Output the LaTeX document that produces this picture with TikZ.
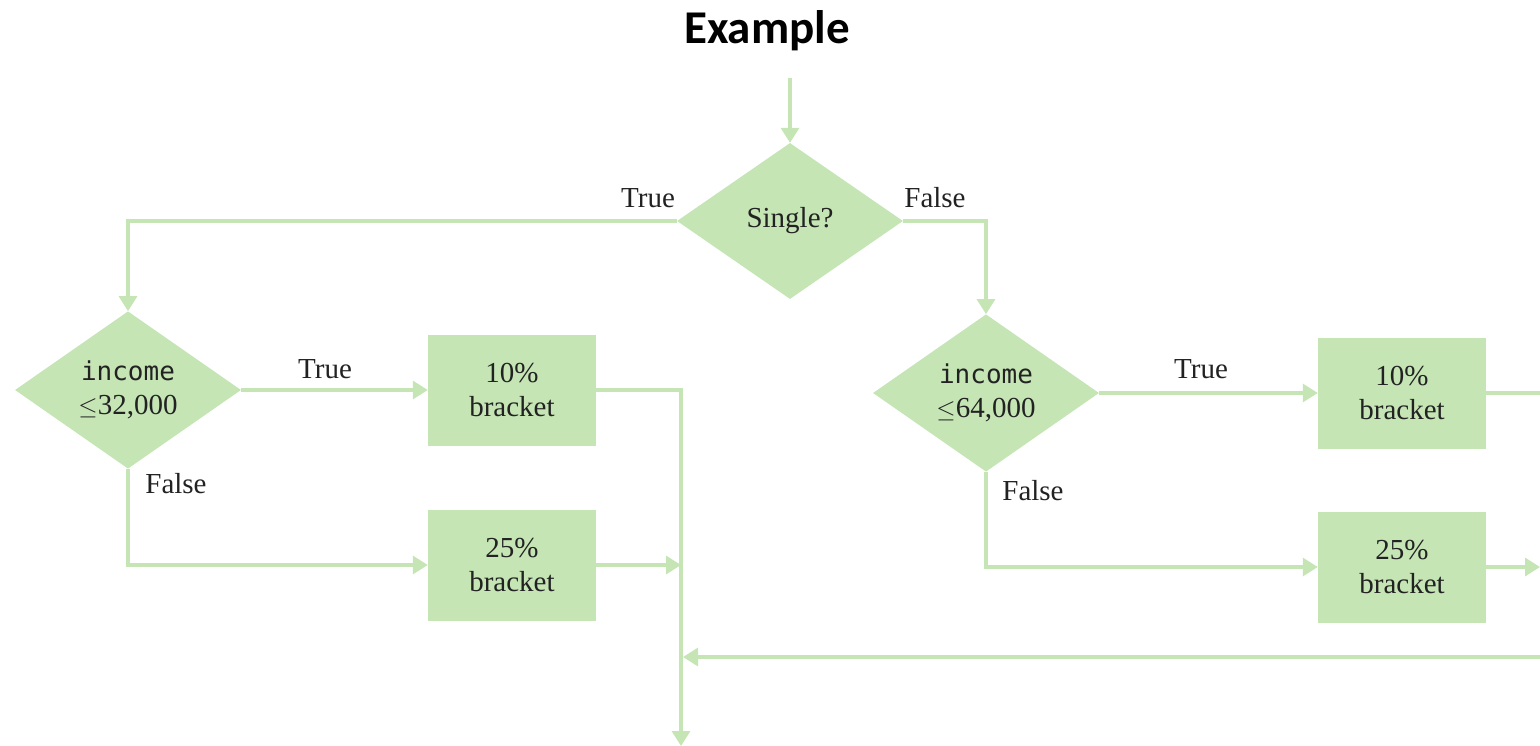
\documentclass[tikz,border=0pt]{standalone}
\usepackage{fontspec}
\setmainfont{Liberation Serif}
\setmonofont{DejaVu Sans Mono}
\newfontfamily\titlefont{Carlito}
\usetikzlibrary{shapes.geometric,arrows.meta}
\definecolor{flowgreen}{RGB}{197,229,181}
\definecolor{inkgray}{RGB}{34,34,34}
\tikzset{
  decision/.style={diamond, fill=flowgreen, inner sep=0pt, minimum width=226pt, minimum height=156pt,
    text=inkgray, align=center, font=\fontsize{29}{34}\selectfont},
  bracketbox/.style={rectangle, fill=flowgreen, inner sep=0pt, minimum width=168pt, minimum height=111pt,
    text=inkgray, align=center, font=\fontsize{29}{34}\selectfont},
  flow/.style={draw=flowgreen, line width=3.2pt},
  arr/.style={flow, -{Triangle[length=15pt,width=18pt]}},
  lbl/.style={text=inkgray, font=\fontsize{29}{34}\selectfont, inner sep=0pt},
}
\begin{document}
\begin{tikzpicture}[x=1pt,y=-1pt]
\useasboundingbox (0,0) rectangle (1540,746);

% title
\node[font=\titlefont\bfseries\fontsize{47}{52}\selectfont, text=black] (title) at (767,31) {Example};

% decisions
\node[decision] (single) at (790,221) {Single?};
\node[decision] (low) at (128,390) {\ttfamily\fontsize{26}{34}\selectfont income\\$\leq$32,000};
\node[decision] (high) at (986,393) {\ttfamily\fontsize{26}{34}\selectfont income\\$\leq$64,000};

% outcome boxes
\node[bracketbox] (lowten) at (512,390) {10\%\\bracket};
\node[bracketbox] (lowtwentyfive) at (512,565) {25\%\\bracket};
\node[bracketbox] (highten) at (1402,393) {10\%\\bracket};
\node[bracketbox] (hightwentyfive) at (1402,567) {25\%\\bracket};

% free ends of connectors
\coordinate (entry) at (790,78);
\coordinate (exit) at (681,746);
\coordinate (joinlow) at (681,565);
\coordinate (joinbottom) at (681,657);
\coordinate (edgeten) at (1540,393);
\coordinate (edgetwentyfive) at (1540,567);
\coordinate (edgereturn) at (1540,657);

% connectors
\draw[arr] (entry) -- (single.north);
\draw[arr] (single.west) -| (low.north);
\draw[arr] (single.east) -| (high.north);
\draw[arr] (low.east) -- (lowten.west);
\draw[arr] (low.south) |- (lowtwentyfive.west);
\draw[arr] (lowten.east) -| (exit);
\draw[arr] (lowtwentyfive.east) -- (joinlow);
\draw[arr] (high.east) -- (highten.west);
\draw[arr] (high.south) |- (hightwentyfive.west);
\draw[flow] (highten.east) -- (edgeten);
\draw[arr] (hightwentyfive.east) -- (edgetwentyfive);
\draw[arr] (edgereturn) -- ([xshift=2pt]joinbottom);

% branch labels
\node[lbl] (singletrue) at (648,198) {True};
\node[lbl] (singlefalse) at (935,198) {False};
\node[lbl] (lowtrue) at (325,369) {True};
\node[lbl] (lowfalse) at (176,484) {False};
\node[lbl] (hightrue) at (1201,369) {True};
\node[lbl] (highfalse) at (1033,491) {False};
\end{tikzpicture}
\end{document}
